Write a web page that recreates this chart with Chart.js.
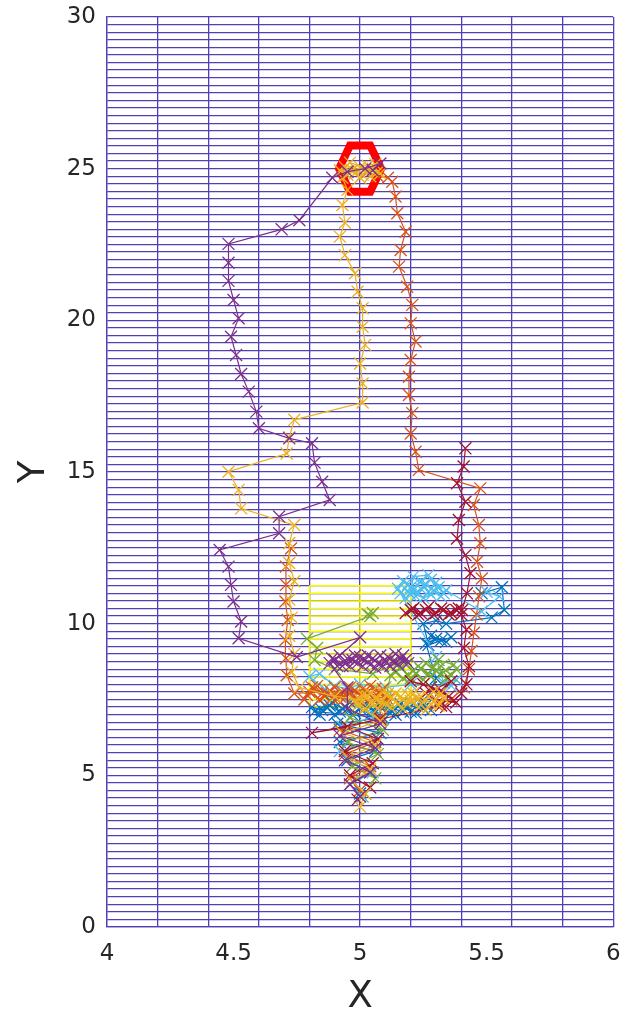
<!DOCTYPE html>
<html><head><meta charset="utf-8">
<script src="https://cdn.jsdelivr.net/npm/chart.js@4/dist/chart.umd.min.js"></script>
<style>html,body{margin:0;padding:0;background:#fff;}#wrap{width:623px;height:1016px;position:relative;}canvas{display:block;}</style>
</head><body><div id="wrap"><canvas id="c" width="623" height="1016"></canvas></div>
<script>
// ---- axes / ticks ----
const xRange = [4, 6];
const yRange = [0, 30];
const xTickLabels = [4, 4.5, 5, 5.5, 6];
const yTickLabels = [0, 5, 10, 15, 20, 25, 30];
const xGridStep = 0.2;
const yGridStep = 0.25;
// ---- yellow sub-grid ----
const yellowGridX = [4.8, 5.0, 5.2];
const yellowGridY = [7.25, 7.5, 7.75, 8, 8.25, 8.5, 8.75, 9, 9.25, 9.5, 9.75, 10, 10.25, 10.5, 10.75, 11, 11.25];
// ---- goal marker ----
const goalHex = [[4.917,25],[4.96,25.76],[5.04,25.76],[5.083,25],[5.04,24.24],[4.96,24.24],[4.917,25],[4.96,25.76]];
// ---- trajectories [x, y] ----
const blueTrack = [[5.00,4.4],[4.97,4.8],[5.04,5.1],[4.95,5.5],[5.06,5.8],[4.92,6.1],[5.08,6.4],[4.91,6.7],[5.09,6.9],
 [4.82,7.1],[4.86,7.3],[4.90,7.0],[4.94,7.25],[4.98,7.05],[5.02,7.35],[5.06,7.1],[5.10,7.3],[5.14,7.0],[5.18,7.25],[5.22,7.05],[5.26,7.3],[5.28,7.15],[5.24,7.4],[5.20,7.1],[5.16,7.35],[5.12,7.05],[5.08,7.25],[5.04,7.0],[5.00,7.2],[4.96,7.4],[4.92,7.1],[4.88,7.3],[4.84,7.0],[4.81,7.25],[4.85,7.15],[4.89,7.4],[4.93,7.2],[4.97,7.0],[5.01,7.3],[5.05,7.15],[5.09,7.4],[5.13,7.2],[5.17,7.1],[5.21,7.35],[5.25,7.2],
 [5.30,8.2],[5.26,9.35],[5.30,9.5],[5.34,9.4],[5.28,9.6],[5.32,9.45],[5.36,9.55],[5.27,9.3],[5.25,10.0],[5.30,10.1],[5.34,10.0],[5.52,10.2],[5.57,10.45],[5.56,11.2],[5.48,11.0]];
const orangeRightTrack = [[5.03,24.9],[5.07,24.75],[5.11,24.7],[5.127,24.57],[5.14,24.08],[5.147,23.53],[5.18,22.92],[5.16,22.32],[5.154,21.77],[5.186,21.11],[5.206,20.51],[5.2,19.9],[5.219,19.3],[5.2,18.69],[5.193,18.14],[5.193,17.54],[5.206,16.94],[5.2,16.27],[5.219,15.67],[5.232,15.07],[5.475,14.46],[5.449,13.91],[5.469,13.25],[5.475,12.65],[5.462,12.04],[5.481,11.49],[5.47,10.9],[5.46,10.3],[5.45,9.7],[5.44,9.1],[5.43,8.5],[5.41,7.9],[5.36,7.5],[5.3,7.35]];
const orangeLeftTrack = [[5.0,4.5],[4.96,4.9],[5.04,5.3],[4.94,5.7],[5.06,6.1],[4.92,6.5],[5.08,6.9],[5.08,7.3],
 [5.10,7.6],[5.06,7.85],[5.02,7.5],[4.98,7.8],[4.94,7.55],[4.90,7.9],[4.86,7.6],[4.82,7.85],[4.78,7.5],[4.80,7.75],[4.84,7.5],[4.88,7.8],[4.92,7.6],[4.96,7.9],[5.00,7.65],[5.04,7.95],[5.08,7.7],[5.11,7.5],[5.07,7.6],[5.03,7.75],[4.99,7.5],[4.95,7.7],[4.91,7.5],[4.87,7.7],[4.83,7.95],[4.79,7.65],[4.81,7.9],[4.85,7.7],[4.89,7.55],[4.93,7.75],[4.97,7.6],[5.01,7.85],[5.05,7.55],[5.09,7.85],
 [4.74,7.7],[4.71,8.3],[4.707,8.86],[4.705,9.46],[4.714,10.12],[4.705,10.73],[4.707,11.28],[4.707,11.88],[4.727,12.48]];
const yellowTrack = [[5.0,3.96],[5.02,4.4],[4.97,4.8],[5.04,5.2],[4.95,5.6],[5.06,6.0],[4.93,6.4],[5.08,6.8],
 [4.99,7.3],[5.03,7.6],[5.07,7.2],[5.11,7.7],[5.15,7.35],[5.19,7.65],[5.23,7.25],[5.27,7.6],[5.31,7.3],[5.33,7.55],[5.29,7.75],[5.25,7.4],[5.21,7.7],[5.17,7.2],[5.13,7.5],[5.09,7.75],[5.05,7.35],[5.01,7.65],[4.98,7.45],[5.02,7.2],[5.06,7.55],[5.10,7.35],[5.14,7.7],[5.18,7.4],[5.22,7.55],[5.26,7.15],[5.30,7.5],[5.32,7.7],[5.28,7.35],[5.24,7.6],[5.20,7.45],[5.16,7.6],[5.12,7.25],[5.08,7.45],[5.04,7.7],[5.00,7.5],
 [4.9,7.6],[4.76,7.9],[4.73,8.4],[4.74,9.0],[4.72,9.6],[4.73,10.2],[4.72,10.8],[4.74,11.4],[4.72,12.0],[4.72,12.65],[4.74,13.25],[4.53,13.8],[4.52,14.41],[4.48,15.01],[4.71,15.61],[4.72,16.15],[4.74,16.72],[5.01,17.29],[5.01,17.92],[5.0,18.58],[5.02,19.19],[5.01,19.79],[5.01,20.4],[4.99,20.94],[4.98,21.55],[4.94,22.15],[4.92,22.76],[4.94,23.22],[4.93,23.8],[4.95,24.3],
 [4.93,24.7],[4.97,24.95],[5.01,24.8],[5.05,25.0],[5.08,24.85],[5.04,24.75],[5.0,25.05],[4.95,24.8],[4.92,24.95],[4.98,24.85],[5.03,25.1],[5.07,24.9],[4.96,25.2],[5.0,24.7],[4.94,25.05],[5.06,25.15],[5.02,24.9]];
const purpleTrack = [[5.0,4.3],[4.96,4.7],[5.04,5.1],[4.94,5.5],[5.06,5.9],[4.92,6.3],[5.08,6.7],[4.95,7.2],[4.95,7.9],
 [4.88,8.7],[4.92,8.95],[4.96,8.6],[5.00,8.9],[5.04,8.65],[5.08,8.95],[5.12,8.6],[5.16,8.85],[5.19,8.7],[5.17,8.95],[5.13,8.75],[5.09,8.6],[5.05,8.85],[5.01,8.6],[4.97,8.8],[4.93,8.6],[4.89,8.85],[4.91,8.6],[4.95,8.85],[4.99,8.7],[5.03,8.95],[5.07,8.7],[5.11,8.9],[5.15,8.65],[5.18,8.8],[5.14,9.0],[5.10,8.75],[5.06,8.55],[5.02,8.8],[4.98,8.95],[4.94,8.7],[4.90,8.8],[5.0,9.55],
 [4.75,8.9],[4.52,9.52],[4.53,10.07],[4.5,10.73],[4.49,11.28],[4.48,11.88],[4.445,12.43],[4.68,12.98],[4.68,13.53],[4.88,14.08],[4.85,14.68],[4.82,15.31],[4.81,15.95],[4.72,16.11],[4.6,16.44],[4.59,16.99],[4.56,17.65],[4.53,18.23],[4.51,18.86],[4.49,19.46],[4.52,20.07],[4.5,20.67],[4.48,21.3],[4.48,21.9],[4.48,22.52],[4.69,23.0],[4.76,23.3],[4.89,24.7],[4.95,24.9],[5.02,25.0],[5.08,25.17],[5.05,24.95]];
const greenTrack = [[5.02,4.4],[5.06,4.9],[4.97,5.3],[5.07,5.7],[4.95,6.1],[5.09,6.5],[4.96,6.9],[5.1,7.5],
 [5.12,8.3],[5.16,8.55],[5.2,8.2],[5.24,8.5],[5.28,8.25],[5.32,8.6],[5.36,8.3],[5.38,8.5],[5.34,8.2],[5.3,8.45],[5.26,8.7],[5.22,8.35],[5.18,8.65],[5.14,8.4],[5.17,8.2],[5.21,8.45],[5.25,8.15],[5.29,8.55],[5.33,8.4],[5.37,8.65],[5.31,8.8],[5.27,8.35],[5.23,8.6],[5.19,8.3],[5.15,8.7],
 [5.05,8.35],[4.9,8.5],[4.82,8.8],[4.83,9.2],[4.79,9.5],[5.04,10.25],[5.05,10.35],[5.03,10.3]];
const lightBlueTrack = [[5.01,4.3],[4.96,4.7],[5.05,5.1],[4.92,5.8],[5.07,6.2],[4.93,6.6],[5.06,6.95],
 [4.86,7.85],[4.8,8.25],[4.84,8.35],[4.9,7.95],[4.95,7.85],[5.0,8.0],[5.1,7.9],[5.2,8.0],[5.36,7.95],[5.38,8.15],[5.33,8.05],[5.3,8.9],
 [5.16,11.0],[5.19,11.3],[5.22,10.9],[5.25,11.25],[5.28,10.95],[5.31,11.2],[5.33,11.0],[5.3,11.35],[5.27,11.05],[5.24,11.4],[5.21,11.1],[5.18,10.85],[5.15,11.15],[5.17,11.4],[5.2,11.2],[5.23,11.0],[5.26,11.3],[5.29,11.1],[5.32,10.9],[5.28,11.45],[5.24,11.15],[5.2,10.95],[5.21,11.55],[5.27,11.6],[5.19,11.05],[5.25,10.85],
 [5.34,11.1],[5.48,10.4],[5.55,10.9],[5.5,11.05]];
const darkRedTrack = [[4.99,4.2],[5.04,4.6],[4.96,5.0],[5.05,5.4],[4.94,5.8],[5.07,6.2],[4.95,6.6],[4.81,6.4],[5.08,6.85],
 [5.32,7.3],[5.35,7.6],[5.28,7.9],[5.2,8.1],[5.25,8.0],[5.32,7.8],[5.38,7.4],[5.3,7.5],[5.36,8.1],[5.26,7.7],[5.34,7.25],[5.4,7.7],
 [5.42,8.0],[5.43,8.6],[5.41,9.2],[5.42,9.8],[5.4,10.3],
 [5.38,10.45],[5.35,10.3],[5.32,10.5],[5.29,10.3],[5.26,10.45],[5.23,10.3],[5.2,10.45],[5.18,10.35],[5.21,10.5],[5.24,10.35],[5.27,10.55],[5.3,10.35],[5.33,10.45],[5.36,10.35],[5.39,10.5],
 [5.403,10.45],[5.422,11.0],[5.436,11.66],[5.416,12.26],[5.383,12.81],[5.39,13.42],[5.416,14.02],[5.383,14.63],[5.409,15.18],[5.416,15.78]];

const GRID = 'rgb(80,64,182)';
const TXT = '#262626';
const FONT = "'DejaVu Sans', 'Liberation Sans', Arial, sans-serif";

const near = (a, b) => Math.abs(a - b) < 1e-6;
const isMult = (v, s) => { const r = v / s; return Math.abs(r - Math.round(r)) < 1e-6; };
function gridValues(range, step, extra) {
  const out = [];
  const n = Math.round((range[1] - range[0]) / step);
  for (let i = 0; i <= n; i++) out.push(Math.round((range[0] + i * step) * 10000) / 10000);
  extra.forEach(v => { if (!out.some(o => near(o, v))) out.push(v); });
  return out.sort((a, b) => a - b);
}
const toPts = arr => arr.map(p => ({x: p[0], y: p[1]}));

const yellowGridPts = [];
yellowGridY.forEach(y => { yellowGridPts.push({x: yellowGridX[0], y}, {x: yellowGridX[yellowGridX.length-1], y}, {x: 5, y: null}); });
yellowGridX.forEach(x => { yellowGridPts.push({x, y: yellowGridY[0]}, {x, y: yellowGridY[yellowGridY.length-1]}, {x: 5, y: null}); });

function track(data, color) {
  return { data: toPts(data), showLine: true, borderColor: color, backgroundColor: color,
    borderWidth: 1.2, pointStyle: 'crossRot', pointRadius: 8.5, pointBorderWidth: 1.3,
    pointBorderColor: color, pointHoverRadius: 8.5 };
}
const zeroPad = s => { s.paddingLeft = 0; s.paddingRight = 0; s.paddingTop = 0; s.paddingBottom = 0; };

new Chart(document.getElementById('c'), {
  type: 'scatter',
  data: { datasets: [
    track(purpleTrack, '#7E2F8E'),
    track(yellowTrack, '#EDB120'),
    track(darkRedTrack, '#A2142F'),
    track(orangeLeftTrack, '#D95319'),
    track(greenTrack, '#77AC30'),
    track(lightBlueTrack, '#4DBEEE'),
    track(orangeRightTrack, '#D95319'),
    track(blueTrack, '#0072BD'),
    { data: toPts(goalHex), showLine: true, borderColor: '#ff0000', borderWidth: 8, pointRadius: 0, borderJoinStyle: 'miter' },
    { data: yellowGridPts, showLine: true, spanGaps: false, borderColor: '#f8f800', borderWidth: 1.5, pointRadius: 0 }
  ]},
  options: {
    responsive: false, animation: false,
    layout: { padding: { top: 17, right: 8, left: 0, bottom: 0 } },
    plugins: { legend: { display: false }, tooltip: { enabled: false } },
    scales: {
      x: {
        type: 'linear', min: xRange[0], max: xRange[1],
        afterBuildTicks: s => { s.ticks = gridValues(xRange, xGridStep, xTickLabels).map(v => ({value: v})); },
        afterFit: s => { s.height = 89; zeroPad(s); },
        ticks: { autoSkip: false, maxRotation: 0, padding: 13, color: TXT, font: { family: FONT, size: 23 },
          callback: v => xTickLabels.some(t => near(t, v)) ? String(v) : '' },
        grid: { drawTicks: false, lineWidth: 1.3, color: c => isMult(c.tick.value, xGridStep) ? GRID : 'rgba(0,0,0,0)' },
        border: { color: GRID, width: 1.3 },
        title: { display: true, text: 'X', color: TXT, font: { family: FONT, size: 37, lineHeight: 1 }, padding: { top: 0, bottom: 0 } }
      },
      y: {
        type: 'linear', min: yRange[0], max: yRange[1],
        afterBuildTicks: s => { s.ticks = gridValues(yRange, yGridStep, yTickLabels).map(v => ({value: v})); },
        afterFit: s => { s.width = 107; zeroPad(s); },
        ticks: { autoSkip: false, padding: 11, color: TXT, font: { family: FONT, size: 23 },
          callback: v => yTickLabels.some(t => near(t, v)) ? String(v) : '' },
        grid: { drawTicks: false, lineWidth: 1.3, color: GRID },
        border: { color: GRID, width: 1.3 },
        title: { display: true, text: 'Y', color: TXT, font: { family: FONT, size: 37, lineHeight: 1 }, padding: { top: 16, bottom: 0 } }
      }
    }
  }
});
</script>
</body></html>
